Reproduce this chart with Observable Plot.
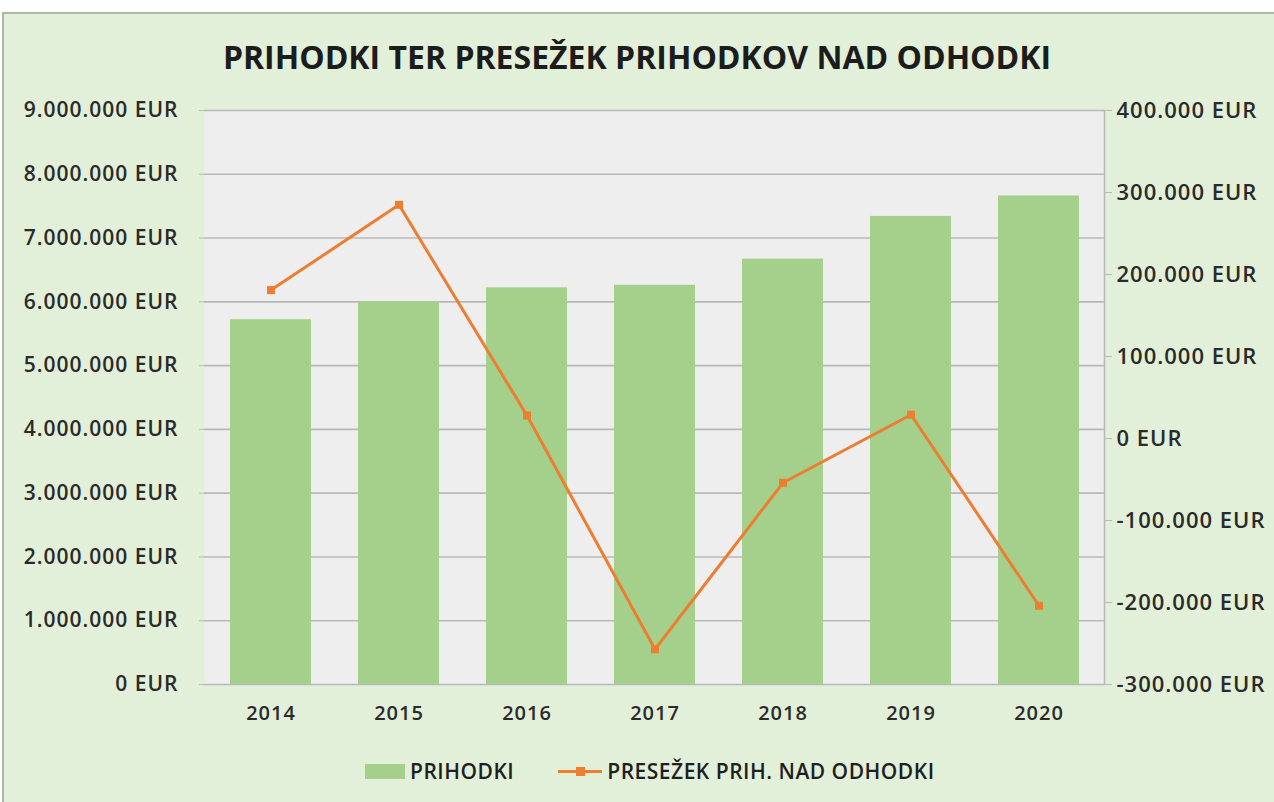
<!DOCTYPE html>
<html>
<head>
<meta charset="utf-8">
<script src="https://cdn.jsdelivr.net/npm/d3@7"></script>
<script src="https://cdn.jsdelivr.net/npm/@observablehq/plot@0.6"></script>
<style>
  body { margin: 0; background: #fff; }
  #wrap { position: relative; width: 1274px; height: 802px; overflow: hidden; background: #fff; font-family: "Open Sans", sans-serif; }
  #frame { position: absolute; left: 2px; top: 12px; width: 1290px; height: 800px; background: #e2efd9; border: 2px solid #aab99f; }
  #title { position: absolute; top: 39px; left: 0; width: 1274px; text-align: center; font-weight: 700; font-size: 32px; line-height: 36px; color: #1c1c1c; }
  #chart { position: absolute; left: 0; top: 0; }
  #chart svg text { letter-spacing: 1px; }
  #legend { position: absolute; top: 758px; left: 365px; display: flex; align-items: center; font-size: 21px; font-weight: 600; color: #1f1f1f; line-height: 26px; letter-spacing: 0.5px; }
  .sw-bar { width: 40px; height: 15px; background: #a5d08b; margin-right: 5px; }
  .sw-line { position: relative; width: 44px; height: 15px; margin-left: 44px; margin-right: 5px; }
  .sw-line::before { content: ""; position: absolute; left: 0; right: 0; top: 6px; height: 3px; background: #ed7d31; }
  .sw-line::after { content: ""; position: absolute; left: 18px; top: 3px; width: 9px; height: 9px; background: #ed7d31; }
</style>
</head>
<body>
<div id="wrap">
  <div id="frame"></div>
  <div id="title">PRIHODKI TER PRESEŽEK PRIHODKOV NAD ODHODKI</div>
  <div id="chart"></div>
  <div id="legend">
    <div class="sw-bar"></div><span id="lg1"></span>
    <div class="sw-line"></div><span id="lg2"></span>
  </div>
</div>
<script>
// ---- data ----
const years = ["2014", "2015", "2016", "2017", "2018", "2019", "2020"];
const prihodki = [5720000, 6000000, 6220000, 6260000, 6670000, 7340000, 7660000];
const presezek = [181000, 285000, 28000, -257000, -54000, 29000, -204000];
const leftTicks = [0, 1000000, 2000000, 3000000, 4000000, 5000000, 6000000, 7000000, 8000000, 9000000];
const rightTicks = [-300000, -200000, -100000, 0, 100000, 200000, 300000, 400000];
const seriesNames = ["PRIHODKI", "PRESEŽEK PRIH. NAD ODHODKI"];

document.getElementById("lg1").textContent = seriesNames[0];
document.getElementById("lg2").textContent = seriesNames[1];

const table = years.map((y, i) => ({year: y, prihodki: prihodki[i], presezek: presezek[i]}));

// secondary axis mapping: right domain [-300000, 400000] onto left domain [0, 9000000]
const leftDomain = [leftTicks[0], leftTicks[leftTicks.length - 1]];
const rightDomain = [rightTicks[0], rightTicks[rightTicks.length - 1]];
const toLeft = d3.scaleLinear().domain(rightDomain).range(leftDomain);

const loc = d3.formatLocale({decimal: ",", thousands: ".", grouping: [3], currency: ["", " EUR"], minus: "-"});
const fmt = loc.format(",.0f");
const eur = v => fmt(v) + " EUR";

const chart = Plot.plot({
  width: 1274,
  height: 760,
  marginLeft: 204,
  marginRight: 170,
  marginTop: 110,
  marginBottom: 76,
  style: {fontFamily: "Open Sans, sans-serif", fontSize: "20px", fontWeight: 600, color: "#2a2a2a", background: "transparent"},
  x: {type: "band", domain: years, paddingInner: 0.37, paddingOuter: 0.185, label: null},
  y: {domain: leftDomain, label: null},
  marks: [
    Plot.frame({fill: "#eeeeee", stroke: null}),
    Plot.gridY(leftTicks, {stroke: "#b8b8b8", strokeOpacity: 1, strokeWidth: 1.6}),
    Plot.axisY(leftTicks, {anchor: "left", tickSize: 5, tickPadding: 21, stroke: "#b8b8b8", fill: "#2a2a2a", fontSize: 21, tickFormat: eur, label: null}),
    Plot.barY(table, {x: "year", y: "prihodki", fill: "#a5d08b"}),
    Plot.line(table, {x: "year", y: d => toLeft(d.presezek), stroke: "#ed7d31", strokeWidth: 3}),
    Plot.dot(table, {x: "year", y: d => toLeft(d.presezek), symbol: "square", r: 4.5, fill: "#ed7d31", stroke: null}),
    Plot.axisX({tickSize: 0, tickPadding: 21, fontSize: 20, fill: "#2a2a2a", label: null}),
    Plot.axisY(rightTicks.map(v => toLeft(v)), {anchor: "right", tickSize: 7, tickPadding: 5, stroke: "#b8b8b8", fill: "#2a2a2a", fontSize: 22, tickFormat: v => eur(Math.round(toLeft.invert(v))), label: null}),
    Plot.frame({anchor: "right", stroke: "#b8b8b8", strokeWidth: 1.5})
  ]
});
document.getElementById("chart").appendChild(chart);
</script>
</body>
</html>
